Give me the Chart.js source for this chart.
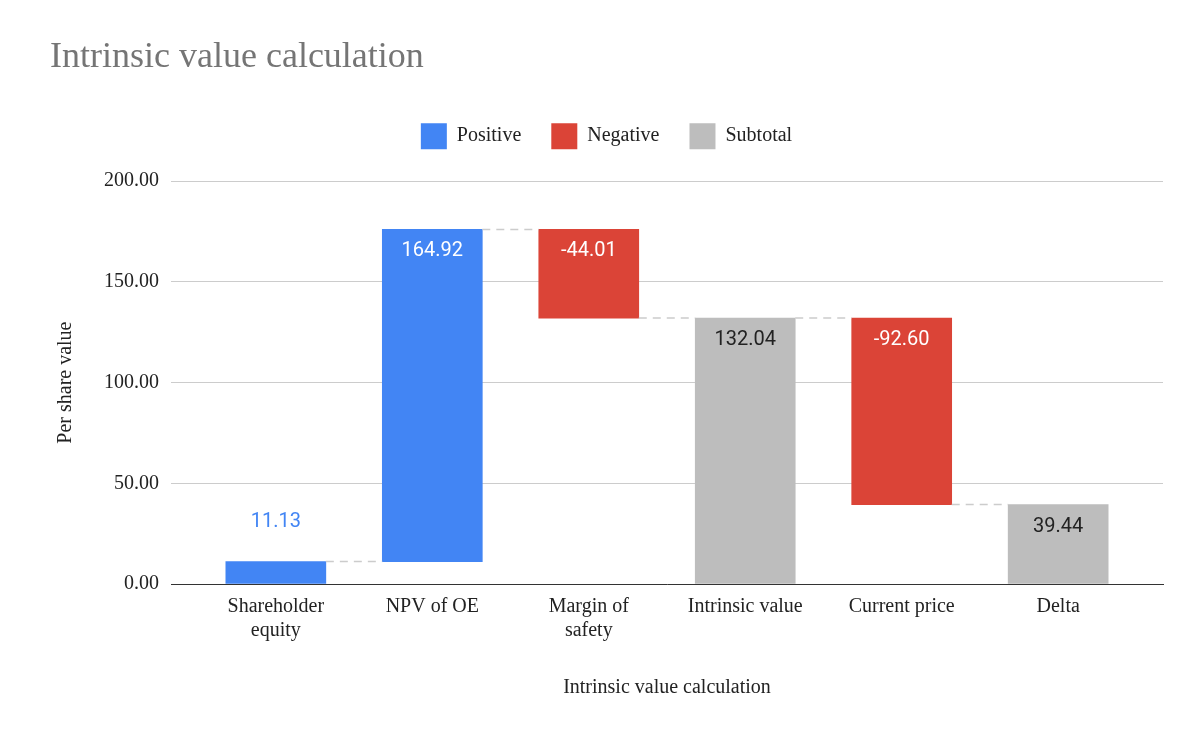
<!DOCTYPE html>
<html><head><meta charset="utf-8">
<script src="https://cdn.jsdelivr.net/npm/chart.js@4/dist/chart.umd.min.js"></script>
<style>html,body{margin:0;padding:0;background:#fff}#w{width:1200px;height:742px}</style>
</head><body><div id="w"><canvas id="c"></canvas></div>
<script>
const categories = [["Shareholder","equity"],"NPV of OE",["Margin of","safety"],"Intrinsic value","Current price","Delta"];
const changes = [11.13, 164.92, -44.01, 132.04, -92.60, 39.44];
const kinds = ["pos","pos","neg","sub","neg","sub"];
const yTicks = [0,50,100,150,200];

const ranges = [];
let run = 0;
changes.forEach((v,i)=>{
  if(kinds[i]==="sub"){ ranges.push([0,v]); run=v; }
  else { ranges.push([run, run+v]); run += v; }
});
function ds(kind){ return ranges.map((r,i)=>kinds[i]===kind?{x:i,y:r}:null).filter(Boolean); }
const serif = "'Liberation Serif','DejaVu Serif',serif";

const labelPlugin = {
  id:'wf',
  afterDatasetsDraw(chart){
    const {ctx, scales:{x,y}} = chart;
    const half = 50;
    ctx.save();
    ctx.strokeStyle='#cccccc'; ctx.lineWidth=1.5; ctx.setLineDash([8,6]);
    for(let i=0;i<ranges.length-1;i++){
      const yy = y.getPixelForValue(ranges[i][1]);
      ctx.beginPath(); ctx.moveTo(x.getPixelForValue(i)+half, yy); ctx.lineTo(x.getPixelForValue(i+1)-half, yy); ctx.stroke();
    }
    ctx.setLineDash([]);
    ctx.font = "20px Roboto, Arial, sans-serif"; ctx.textAlign='center'; ctx.textBaseline='middle';
    ranges.forEach((r,i)=>{
      const cx = x.getPixelForValue(i);
      const top = y.getPixelForValue(Math.max(r[0],r[1]));
      const bot = y.getPixelForValue(Math.min(r[0],r[1]));
      const txt = changes[i].toFixed(2);
      if(bot-top < 40){ ctx.fillStyle = kinds[i]==='pos'?'#4285f4':'#000'; ctx.fillText(txt,cx,top-40); }
      else { ctx.fillStyle = kinds[i]==='sub'?'#222':'#fff'; ctx.fillText(txt,cx,top+22); }
    });
    ctx.restore();
  }
};
const legendSpace = { id:'legendSpace', beforeInit(chart){ const fit = chart.legend.fit; chart.legend.fit = function(){ fit.bind(chart.legend)(); this.height += 22; }; } };

new Chart(document.getElementById('c'),{
  type:'bar',
  data:{datasets:[
    {label:'Positive',data:ds('pos'),backgroundColor:'#4285f4'},
    {label:'Negative',data:ds('neg'),backgroundColor:'#db4437'},
    {label:'Subtotal',data:ds('sub'),backgroundColor:'#bdbdbd'}
  ]},
  options:{
    responsive:true, maintainAspectRatio:false, animation:false,
    layout:{padding:{left:50,right:37,top:36,bottom:38}},
    datasets:{bar:{grouped:false,barThickness:100}},
    plugins:{
      title:{display:true,text:'Intrinsic value calculation',align:'start',color:'#757575',font:{family:serif,size:36,weight:'normal'},padding:{top:0,bottom:14}},
      legend:{labels:{font:{family:serif,size:20},color:'#222',boxWidth:26,boxHeight:26,padding:30}},
      tooltip:{enabled:false}
    },
    scales:{
      x:{type:'linear',min:-0.67,max:5.67,offset:false,
        afterBuildTicks(s){ s.ticks = categories.map((c,i)=>({value:i})); },
        ticks:{callback:(v)=>categories[v],font:{family:serif,size:20},color:'#222',maxRotation:0,autoSkip:false},
        grid:{display:false},border:{color:'#333'},
        title:{display:true,text:'Intrinsic value calculation',font:{family:serif,size:20},color:'#222',padding:{top:30}}},
      y:{min:0,max:200,
        afterBuildTicks(s){ s.ticks = yTicks.map(v=>({value:v})); },
        ticks:{callback:v=>v.toFixed(2),font:{family:serif,size:20},color:'#222',padding:12},
        grid:{color:'#cccccc',drawTicks:false},border:{display:false},
        title:{display:true,text:'Per share value',font:{family:serif,size:20},color:'#222',padding:{bottom:14}}}
    }
  },
  plugins:[labelPlugin, legendSpace]
});
</script></body></html>
